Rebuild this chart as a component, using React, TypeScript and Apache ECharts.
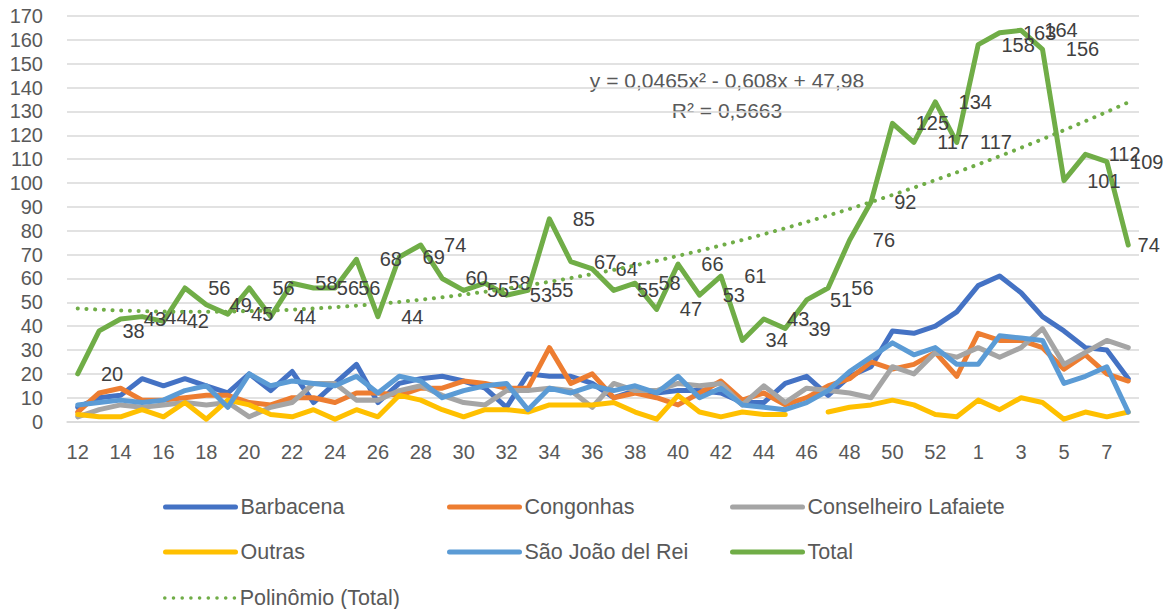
import React, { useEffect, useRef } from "react";
import * as echarts from "echarts";

const weeks = [
  "12", "13", "14", "15", "16", "17", "18", "19", "20", "21",
  "22", "23", "24", "25", "26", "27", "28", "29", "30", "31",
  "32", "33", "34", "35", "36", "37", "38", "39", "40", "41",
  "42", "43", "44", "45", "46", "47", "48", "49", "50", "51",
  "52", "53", "1", "2", "3", "4", "5", "6", "7", "8",
];

const barbacena = [6, 10, 11, 18, 15, 18, 15, 12, 20, 13, 21, 8, 16, 24, 8, 16, 18, 19, 17, 14, 6, 20, 19, 19, 16, 10, 13, 12, 13, 13, 12, 8, 8, 16, 19, 11, 19, 23, 38, 37, 40, 46, 57, 61, 54, 44, 38, 31, 30, 18];
const congonhas = [4, 12, 14, 9, 9, 10, 11, 11, 8, 7, 10, 10, 8, 12, 12, 11, 14, 14, 17, 16, 14, 14, 31, 16, 20, 10, 12, 10, 7, 12, 17, 9, 12, 7, 10, 15, 18, 25, 22, 24, 29, 19, 37, 34, 34, 31, 22, 28, 20, 17];
const conselheiro = [2, 5, 7, 6, 7, 8, 7, 8, 2, 6, 8, 16, 16, 9, 9, 13, 15, 11, 8, 7, 13, 13, 14, 13, 6, 16, 13, 13, 16, 15, 16, 7, 15, 8, 14, 13, 12, 10, 23, 20, 29, 27, 31, 27, 31, 39, 24, 29, 34, 31];
const outras = [3, 2, 2, 5, 2, 8, 1, 9, 7, 3, 2, 5, 1, 5, 2, 11, 9, 5, 2, 5, 5, 4, 7, 7, 7, 8, 4, 1, 11, 4, 2, 4, 3, 3, null, 4, 6, 7, 9, 7, 3, 2, 9, 5, 10, 8, 1, 4, 2, 4];
const saoJoao = [7, 8, 9, 8, 9, 13, 15, 6, 20, 15, 17, 16, 15, 19, 12, 19, 17, 10, 13, 15, 16, 5, 14, 12, 15, 13, 15, 12, 19, 10, 14, 7, 6, 5, 8, 13, 21, 27, 33, 28, 31, 24, 24, 36, 35, 34, 16, 19, 23, 4];
const total = [20, 38, 43, 44, 42, 56, 49, 45, 56, 44, 58, 56, 56, 68, 44, 69, 74, 60, 55, 58, 53, 55, 85, 67, 64, 55, 58, 47, 66, 53, 61, 34, 43, 39, 51, 56, 76, 92, 125, 117, 134, 117, 158, 163, 164, 156, 101, 112, 109, 74];

// Trendline coefficients shown on the chart: y = a x^2 + b x + c
const trendCoefficients = [0.0465, -0.608, 47.98];
const trendEquation = "y = 0,0465x² - 0,608x + 47,98";
const trendR2 = "R² = 0,5663";

const seriesNames = ["Barbacena", "Congonhas", "Conselheiro Lafaiete", "Outras", "São João del Rei", "Total", "Polinômio (Total)"];
const seriesColors = ["#4472C4", "#ED7D31", "#A5A5A5", "#FFC000", "#5B9BD5", "#70AD47", "#70AD47"];

const FONT = "Liberation Sans";
const LINE_W = 5;

export default function App() {
  const ref = useRef<HTMLDivElement>(null);

  useEffect(() => {
    if (!ref.current) return;
    const chart = echarts.init(ref.current, undefined, { renderer: "svg" });

    const trend = weeks.map((_, i) => {
      const x = i + 1;
      return +(trendCoefficients[0] * x * x + trendCoefficients[1] * x + trendCoefficients[2]).toFixed(3);
    });

    const lineSeries = (name: string, data: (number | null)[], idx: number) => ({
      name,
      type: "line",
      data,
      symbol: "none",
      connectNulls: false,
      lineStyle: { width: LINE_W, color: seriesColors[idx], cap: "round", join: "round" },
      itemStyle: { color: seriesColors[idx] },
      z: 2 + idx,
    });

    const totalData = total.map((v, i) => ({
      value: v,
      label: i === total.length - 1 ? { distance: 9 } : undefined,
    }));

    const legendPos = [
      { left: 158, top: 491 },
      { left: 442, top: 491 },
      { left: 725, top: 491 },
      { left: 158, top: 536 },
      { left: 442, top: 536 },
      { left: 725, top: 536 },
      { left: 158, top: 582 },
    ];

    const option: any = {
      animation: false,
      backgroundColor: "#ffffff",
      textStyle: { fontFamily: FONT },
      grid: { left: 67, right: 24, top: 16, height: 405.6, containLabel: false },
      xAxis: {
        type: "category",
        data: weeks,
        boundaryGap: true,
        axisTick: { show: false },
        axisLine: { lineStyle: { color: "#D9D9D9", width: 1.5 } },
        axisLabel: { interval: 1, color: "#595959", fontSize: 20, margin: 20, fontFamily: FONT },
      },
      yAxis: {
        type: "value",
        min: 0,
        max: 170,
        interval: 10,
        axisLine: { show: false },
        axisTick: { show: false },
        splitLine: { lineStyle: { color: "#D9D9D9", width: 1.5 } },
        axisLabel: { color: "#595959", fontSize: 20, margin: 24, fontFamily: FONT },
      },
      legend: legendPos.map((p, i) => ({
        left: p.left,
        top: p.top,
        data: [seriesNames[i]],
        itemWidth: 70,
        itemHeight: 14,
        itemGap: 0,
        selectedMode: false,
        itemStyle: { opacity: 0 },
        lineStyle: i === 6 ? { width: 3.5 } : { width: 5, cap: "round" },
        textStyle: { color: "#595959", fontSize: 21.5, fontFamily: FONT },
      })),
      graphic: [
        {
          type: "text",
          x: 727,
          y: 80,
          style: {
            text: trendEquation,
            fill: "#595959",
            font: `21px "${FONT}"`,
            textAlign: "center",
            textVerticalAlign: "middle",
          },
        },
        {
          type: "text",
          x: 727,
          y: 110,
          style: {
            text: trendR2,
            fill: "#595959",
            font: `21px "${FONT}"`,
            textAlign: "center",
            textVerticalAlign: "middle",
          },
        },
      ],
      series: [
        lineSeries(seriesNames[0], barbacena, 0),
        lineSeries(seriesNames[1], congonhas, 1),
        lineSeries(seriesNames[2], conselheiro, 2),
        lineSeries(seriesNames[3], outras, 3),
        lineSeries(seriesNames[4], saoJoao, 4),
        {
          name: seriesNames[5],
          type: "line",
          data: totalData,
          symbol: "circle",
          symbolSize: 0.5,
          showSymbol: true,
          lineStyle: { width: LINE_W, color: seriesColors[5], cap: "round", join: "round" },
          itemStyle: { color: seriesColors[5] },
          label: {
            show: true,
            position: "right",
            distance: 23,
            color: "#404040",
            fontSize: 20,
            fontFamily: FONT,
          },
          z: 8,
        },
        {
          name: seriesNames[6],
          type: "line",
          data: trend,
          symbol: "none",
          smooth: false,
          lineStyle: { width: 4, color: seriesColors[6], type: [0.1, 8.6], cap: "round" },
          itemStyle: { color: seriesColors[6] },
          z: 9,
        },
      ],
    };

    chart.setOption(option);
    return () => chart.dispose();
  }, []);

  return (
    <div
      ref={ref}
      style={{ position: "fixed", left: 0, top: 0, width: 1163, height: 609, background: "#fff" }}
    />
  );
}
